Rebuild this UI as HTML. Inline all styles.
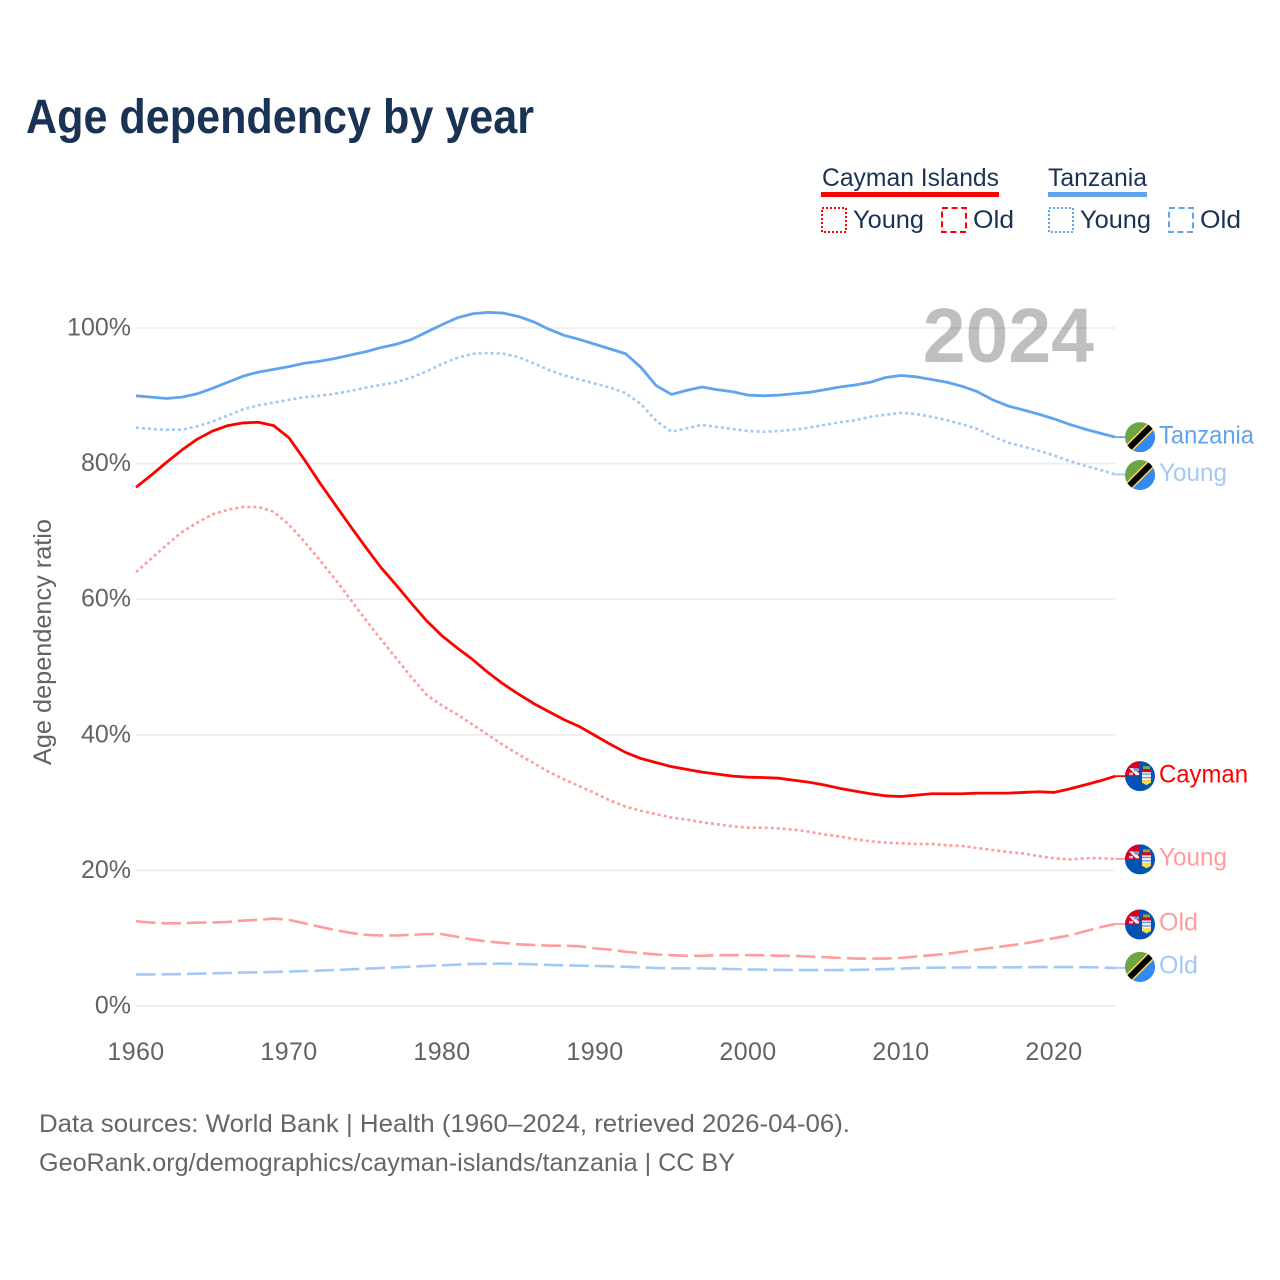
<!DOCTYPE html>
<html lang="en">
<head>
<meta charset="utf-8">
<title>Age dependency by year</title>
<style>
html,body{margin:0;padding:0;background:#fff;width:1280px;height:1280px;overflow:hidden}
svg{display:block}
text{font-family:"Liberation Sans",sans-serif}
.tick{font-size:25px;fill:#636363}
.xt{letter-spacing:.4px}
.foot{font-size:25px;fill:#666}
.leg{font-size:25px;fill:#1a3354}
.end{font-size:25px}
</style>
</head>
<body>
<svg id="chart" xmlns="http://www.w3.org/2000/svg" width="1280" height="1280" viewBox="0 0 1280 1280">
  <rect x="0" y="0" width="1280" height="1280" fill="#fff"/>
  <text x="26" y="133" font-size="48" font-weight="700" fill="#1a3354" textLength="508" lengthAdjust="spacingAndGlyphs">Age dependency by year</text>

  <g>
    <text class="leg" x="822" y="186" textLength="177" lengthAdjust="spacingAndGlyphs">Cayman Islands</text>
    <rect x="821" y="192" width="178" height="5" fill="#ff0000"/>
    <text class="leg" x="1048" y="186" textLength="99" lengthAdjust="spacingAndGlyphs">Tanzania</text>
    <rect x="1048" y="192" width="99" height="5" fill="#5fa4ef"/>

    <rect x="822" y="208" width="24" height="24" fill="none" stroke="#ff0000" stroke-width="2" stroke-dasharray="2 2"/>
    <text class="leg" x="853" y="228" textLength="71" lengthAdjust="spacingAndGlyphs">Young</text>
    <rect x="942" y="208" width="24" height="24" fill="none" stroke="#ff0000" stroke-width="2" stroke-dasharray="6 3.6"/>
    <text class="leg" x="973" y="228" textLength="41" lengthAdjust="spacingAndGlyphs">Old</text>

    <rect x="1049" y="208" width="24" height="24" fill="none" stroke="#5fa4ef" stroke-width="2" stroke-dasharray="2 2"/>
    <text class="leg" x="1080" y="228" textLength="71" lengthAdjust="spacingAndGlyphs">Young</text>
    <rect x="1169" y="208" width="24" height="24" fill="none" stroke="#5fa4ef" stroke-width="2" stroke-dasharray="6 3.6"/>
    <text class="leg" x="1200" y="228" textLength="41" lengthAdjust="spacingAndGlyphs">Old</text>
  </g>

  <g id="grid"></g>
  <g id="yticks"></g>
  <g id="xticks"></g>
  <text transform="translate(51,642) rotate(-90)" text-anchor="middle" font-size="25" fill="#636363" textLength="246" lengthAdjust="spacingAndGlyphs">Age dependency ratio</text>

  <text x="1094" y="362" text-anchor="end" font-size="77" font-weight="700" fill="#000" fill-opacity="0.25">2024</text>

  <g id="series"></g>
  <g id="ends"></g>

  <text class="foot" x="39" y="1132" textLength="811" lengthAdjust="spacingAndGlyphs">Data sources: World Bank | Health (1960–2024, retrieved 2026-04-06).</text>
  <text class="foot" x="39" y="1171" textLength="696" lengthAdjust="spacingAndGlyphs">GeoRank.org/demographics/cayman-islands/tanzania | CC BY</text>
</svg>

<script>
const years = [1960,1961,1962,1963,1964,1965,1966,1967,1968,1969,
  1970,1971,1972,1973,1974,1975,1976,1977,1978,1979,
  1980,1981,1982,1983,1984,1985,1986,1987,1988,1989,
  1990,1991,1992,1993,1994,1995,1996,1997,1998,1999,
  2000,2001,2002,2003,2004,2005,2006,2007,2008,2009,
  2010,2011,2012,2013,2014,2015,2016,2017,2018,2019,
  2020,2021,2022,2023,2024];
const xTickLabels = [1960,1970,1980,1990,2000,2010,2020];
const yTickLabels = [0,20,40,60,80,100];

const tanzaniaTotal = [90.0,89.8,89.6,89.8,90.3,91.1,92.0,92.9,93.5,93.9,
  94.3,94.8,95.1,95.5,96.0,96.5,97.1,97.6,98.3,99.4,
  100.5,101.5,102.1,102.3,102.2,101.7,100.9,99.8,98.9,98.3,
  97.6,96.9,96.2,94.2,91.5,90.2,90.8,91.3,90.9,90.6,
  90.1,90.0,90.1,90.3,90.5,90.9,91.3,91.6,92.0,92.7,
  93.0,92.8,92.4,92.0,91.4,90.6,89.4,88.5,87.9,87.3,
  86.6,85.8,85.1,84.5,83.9];
const tanzaniaYoung = [85.3,85.1,85.0,85.0,85.5,86.2,87.1,88.0,88.6,89.0,
  89.4,89.8,90.0,90.3,90.7,91.2,91.6,92.0,92.7,93.6,
  94.7,95.6,96.2,96.3,96.2,95.7,94.8,93.8,93.0,92.4,
  91.8,91.2,90.4,88.8,86.3,84.7,85.2,85.7,85.4,85.1,
  84.8,84.7,84.8,85.0,85.3,85.7,86.1,86.4,86.9,87.2,
  87.5,87.3,86.9,86.4,85.8,85.1,84.0,83.1,82.5,81.9,
  81.2,80.4,79.7,79.1,78.4];
const tanzaniaOld = [4.65,4.66,4.68,4.72,4.76,4.82,4.88,4.93,4.97,5.02,
  5.08,5.15,5.22,5.3,5.4,5.5,5.6,5.7,5.8,5.9,
  6.0,6.1,6.2,6.25,6.25,6.2,6.15,6.05,6.0,5.95,
  5.9,5.85,5.8,5.7,5.6,5.55,5.55,5.55,5.5,5.45,
  5.4,5.35,5.32,5.3,5.3,5.3,5.3,5.32,5.38,5.45,
  5.5,5.6,5.65,5.68,5.68,5.7,5.7,5.7,5.72,5.75,
  5.75,5.75,5.72,5.7,5.62];
const caymanTotal = [76.5,78.3,80.2,82.0,83.6,84.8,85.6,86.0,86.1,85.6,
  83.8,80.6,77.2,74.0,70.8,67.7,64.7,62.1,59.4,56.8,
  54.6,52.8,51.1,49.2,47.5,46.0,44.6,43.4,42.2,41.2,
  39.9,38.6,37.4,36.5,35.9,35.3,34.9,34.5,34.2,33.9,
  33.75,33.7,33.6,33.3,33.0,32.6,32.1,31.7,31.3,31.0,
  30.9,31.1,31.3,31.3,31.3,31.4,31.4,31.4,31.5,31.6,
  31.5,32.0,32.6,33.2,33.9];
const caymanYoung = [64.0,66.0,68.0,69.9,71.3,72.5,73.2,73.6,73.6,72.9,
  71.0,68.5,65.8,63.0,60.0,57.0,54.1,51.3,48.5,45.9,
  44.3,43.0,41.5,40.0,38.5,37.1,35.8,34.5,33.4,32.4,
  31.4,30.3,29.4,28.8,28.3,27.8,27.5,27.1,26.8,26.5,
  26.3,26.3,26.2,26.0,25.7,25.3,25.0,24.6,24.3,24.1,
  24.0,23.9,23.9,23.7,23.6,23.3,23.0,22.7,22.5,22.1,
  21.8,21.6,21.8,21.8,21.7];
const caymanOld = [12.5,12.3,12.2,12.2,12.3,12.3,12.4,12.6,12.7,12.9,
  12.7,12.2,11.7,11.2,10.8,10.5,10.4,10.4,10.5,10.6,
  10.6,10.2,9.8,9.5,9.3,9.1,9.0,8.9,8.9,8.8,
  8.5,8.3,8.0,7.8,7.6,7.5,7.4,7.4,7.5,7.5,
  7.5,7.5,7.4,7.4,7.3,7.2,7.1,7.0,7.0,7.0,
  7.1,7.3,7.5,7.7,8.0,8.3,8.6,8.9,9.2,9.6,
  10.0,10.4,11.0,11.6,12.1];

const SVGNS = 'http://www.w3.org/2000/svg';
function xScale(year){ return 136 + (year - 1960) * 15.3; }
function yScale(pct){ return 1006 - pct * 6.78; }
function make(tag, attrs, parent){
  const el = document.createElementNS(SVGNS, tag);
  for (const k in attrs) el.setAttribute(k, attrs[k]);
  parent.appendChild(el);
  return el;
}

const gridG = document.getElementById('grid');
const yTickG = document.getElementById('yticks');
const xTickG = document.getElementById('xticks');
const seriesG = document.getElementById('series');
const endsG = document.getElementById('ends');

yTickLabels.forEach(function(t){
  const line = make('line', {x1:136, x2:1115, y1:yScale(t), y2:yScale(t), stroke:'#ebebeb', 'stroke-width':1.6}, gridG);
  
  
  const label = make('text', {x:131, y:yScale(t) + 7.5, 'text-anchor':'end', class:'tick'}, yTickG);
  
  
  label.textContent = t + '%';
});

xTickLabels.forEach(function(t){
  const label = make('text', {x:xScale(t), y:1060, 'text-anchor':'middle', class:'tick xt'}, xTickG);
  
  
  label.textContent = t;
});

const seriesList = [
  {id:'tanzania-total', values:tanzaniaTotal, color:'#5fa4ef', dash:'', width:2.8, flag:'tz', text:'Tanzania', w:95, shift:0},
  {id:'tanzania-young', values:tanzaniaYoung, color:'#a2c9f5', dash:'3 3', width:2.6, flag:'tz', text:'Young', w:68, shift:0.5},
  {id:'tanzania-old', values:tanzaniaOld, color:'#a2c9f5', dash:'19.5 6', width:2.6, flag:'tz', text:'Old', w:39, shift:-1},
  {id:'cayman-total', values:caymanTotal, color:'#ff0000', dash:'', width:2.8, flag:'ky', text:'Cayman', w:89, shift:0},
  {id:'cayman-young', values:caymanYoung, color:'#ff9c9c', dash:'3 3', width:2.6, flag:'ky', text:'Young', w:68, shift:0.5},
  {id:'cayman-old', values:caymanOld, color:'#ff9c9c', dash:'19.5 6', width:2.6, flag:'ky', text:'Old', w:39, shift:0.5}
];

function drawTanzaniaFlag(g, cx, cy, key){
  const clipId = 'clip-' + key;
  const cp = make('clipPath', {id:clipId}, g);
  make('circle', {cx:cx, cy:cy, r:15}, cp);
  const f = make('g', {'clip-path':'url(#' + clipId + ')'}, g);
  make('rect', {x:cx-15, y:cy-15, width:30, height:30, fill:'#6da544'}, f);
  make('polygon', {points:(cx+16)+','+(cy-16)+' '+(cx+16)+','+(cy+16)+' '+(cx-16)+','+(cy+16), fill:'#338af3'}, f);
  make('line', {x1:cx-15, y1:cy+15, x2:cx+15, y2:cy-15, stroke:'#ffda44', 'stroke-width':9}, f);
  make('line', {x1:cx-15, y1:cy+15, x2:cx+15, y2:cy-15, stroke:'#000', 'stroke-width':6}, f);
}

function drawCaymanFlag(g, cx, cy, key){
  const clipId = 'clip-' + key;
  const cp = make('clipPath', {id:clipId}, g);
  make('circle', {cx:cx, cy:cy, r:15}, cp);
  const f = make('g', {'clip-path':'url(#' + clipId + ')'}, g);
  make('rect', {x:cx-15, y:cy-15, width:30, height:30, fill:'#0052b4'}, f);
  make('rect', {x:cx-15, y:cy-15, width:15, height:15, fill:'#d80027'}, f);
  make('polygon', {points:(cx-11)+','+(cy-8)+' '+(cx-7)+','+(cy-8)+' '+(cx-1)+','+(cy-3)+' '+(cx-1)+','+(cy-1)+' '+(cx-4)+','+(cy-1), fill:'#f0f0f0'}, f);
  make('rect', {x:cx-6, y:cy-8, width:5, height:3, fill:'#7f9fd0'}, f);
  make('rect', {x:cx-11, y:cy-3.5, width:4, height:2.5, fill:'#f0c0c0'}, f);
  make('rect', {x:cx+3, y:cy-10, width:7, height:3, fill:'#8aa83c'}, f);
  make('rect', {x:cx+2, y:cy-7, width:9, height:3, fill:'#d80027'}, f);
  make('rect', {x:cx+2, y:cy-4, width:9, height:8, fill:'#f0f0f0'}, f);
  make('path', {d:'M'+(cx+2)+' '+(cy-2)+'h9M'+(cx+2)+' '+(cy+1.5)+'h9', stroke:'#5f9be0', 'stroke-width':1.3, fill:'none'}, f);
  make('polygon', {points:(cx+2)+','+(cy+4)+' '+(cx+11)+','+(cy+4)+' '+(cx+11)+','+(cy+6.5)+' '+(cx+6.5)+','+(cy+9)+' '+(cx+2)+','+(cy+6.5), fill:'#ffda44'}, f);
}

seriesList.forEach(function(s){
  const pts = s.values.map(function(v, i){ return xScale(years[i]) + ',' + yScale(v); }).join(' ');
  const line = make('polyline', {points:pts, fill:'none', stroke:s.color, 'stroke-width':s.width, 'stroke-linejoin':'round'}, seriesG);
  
  
  if (s.dash) line.setAttribute('stroke-dasharray', s.dash);

  const lastV = s.values[s.values.length - 1];
  const ey = yScale(lastV);
  const ex = xScale(years[years.length - 1]);
  const conn = make('line', {x1:ex, y1:ey, x2:ex + 10, y2:ey, stroke:s.color, 'stroke-width':1.8}, endsG);
  
  

  const cx = 1140, cy = ey + s.shift;
  const flag = make('g', {}, endsG);
  
  
  if (s.flag === 'tz') drawTanzaniaFlag(flag, cx, cy, s.id);
  else drawCaymanFlag(flag, cx, cy, s.id);

  const label = make('text', {x:1159, y:ey + 6.5 + Math.min(s.shift, 0), class:'end', fill:s.color, textLength:s.w, lengthAdjust:'spacingAndGlyphs'}, endsG);
  
  
  label.textContent = s.text;
});
</script>
</body>
</html>
